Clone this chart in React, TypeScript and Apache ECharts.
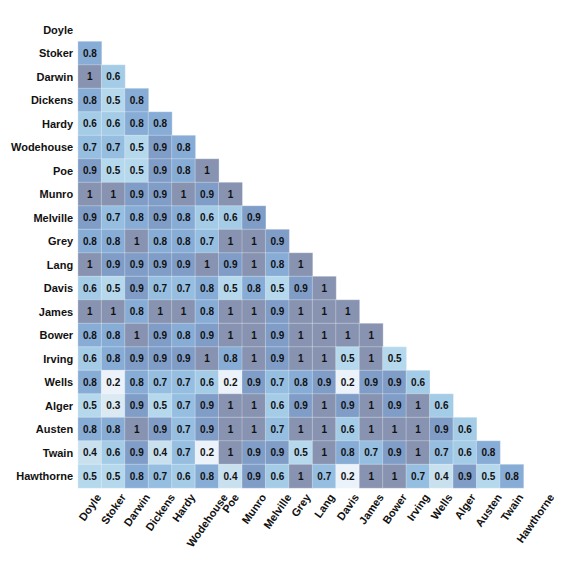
import React, { useEffect, useRef } from "react";
import * as echarts from "echarts";

const authors = [
  "Doyle", "Stoker", "Darwin", "Dickens", "Hardy", "Wodehouse", "Poe", "Munro", "Melville", "Grey",
  "Lang", "Davis", "James", "Bower", "Irving", "Wells", "Alger", "Austen", "Twain", "Hawthorne",
];

// lower-triangle rows: row i holds values for columns 0..i-1
const rowStoker = [0.8];
const rowDarwin = [1, 0.6];
const rowDickens = [0.8, 0.5, 0.8];
const rowHardy = [0.6, 0.6, 0.8, 0.8];
const rowWodehouse = [0.7, 0.7, 0.5, 0.9, 0.8];
const rowPoe = [0.9, 0.5, 0.5, 0.9, 0.8, 1];
const rowMunro = [1, 1, 0.9, 0.9, 1, 0.9, 1];
const rowMelville = [0.9, 0.7, 0.8, 0.9, 0.8, 0.6, 0.6, 0.9];
const rowGrey = [0.8, 0.8, 1, 0.8, 0.8, 0.7, 1, 1, 0.9];
const rowLang = [1, 0.9, 0.9, 0.9, 0.9, 1, 0.9, 1, 0.8, 1];
const rowDavis = [0.6, 0.5, 0.9, 0.7, 0.7, 0.8, 0.5, 0.8, 0.5, 0.9, 1];
const rowJames = [1, 1, 0.8, 1, 1, 0.8, 1, 1, 0.9, 1, 1, 1];
const rowBower = [0.8, 0.8, 1, 0.9, 0.8, 0.9, 1, 1, 0.9, 1, 1, 1, 1];
const rowIrving = [0.6, 0.8, 0.9, 0.9, 0.9, 1, 0.8, 1, 0.9, 1, 1, 0.5, 1, 0.5];
const rowWells = [0.8, 0.2, 0.8, 0.7, 0.7, 0.6, 0.2, 0.9, 0.7, 0.8, 0.9, 0.2, 0.9, 0.9, 0.6];
const rowAlger = [0.5, 0.3, 0.9, 0.5, 0.7, 0.9, 1, 1, 0.6, 0.9, 1, 0.9, 1, 0.9, 1, 0.6];
const rowAusten = [0.8, 0.8, 1, 0.9, 0.7, 0.9, 1, 1, 0.7, 1, 1, 0.6, 1, 1, 1, 0.9, 0.6];
const rowTwain = [0.4, 0.6, 0.9, 0.4, 0.7, 0.2, 1, 0.9, 0.9, 0.5, 1, 0.8, 0.7, 0.9, 1, 0.7, 0.6, 0.8];
const rowHawthorne = [0.5, 0.5, 0.8, 0.7, 0.6, 0.8, 0.4, 0.9, 0.6, 1, 0.7, 0.2, 1, 1, 0.7, 0.4, 0.9, 0.5, 0.8];

const rows: number[][] = [
  [], rowStoker, rowDarwin, rowDickens, rowHardy, rowWodehouse, rowPoe, rowMunro, rowMelville, rowGrey,
  rowLang, rowDavis, rowJames, rowBower, rowIrving, rowWells, rowAlger, rowAusten, rowTwain, rowHawthorne,
];

const colorStops = [
  "#ebf2f9", "#dbe9f3", "#c9e0ee", "#b5d8ec", "#a5cce7", "#95bee0", "#87acd5", "#7f9dc7", "#8793b0",
];

export default function App() {
  const ref = useRef<HTMLDivElement>(null);
  useEffect(() => {
    if (!ref.current) return;
    const chart = echarts.init(ref.current, null, { renderer: "svg" });
    const data: [number, number, number][] = [];
    rows.forEach((r, i) => r.forEach((v, j) => data.push([j, i, v])));
    const font = "Liberation Sans";
    const H = 557;
    const gridLeft = 69, gridRight = 18, gridTop = 10, gridBottom = 77;
    chart.setOption({
      animation: false,
      grid: { left: gridLeft, right: gridRight, top: gridTop, bottom: gridBottom, containLabel: false },
      xAxis: {
        type: "category",
        data: authors,
        axisLine: { show: false },
        axisTick: { show: false },
        splitLine: { show: false },
        axisLabel: { show: false },
      },
      yAxis: {
        type: "category",
        data: authors,
        inverse: true,
        axisLine: { show: false },
        axisTick: { show: false },
        splitLine: { show: false },
        axisLabel: {
          interval: 0,
          margin: 5,
          color: "#111",
          fontWeight: "bold",
          fontSize: 11,
          fontFamily: font,
        },
      },
      visualMap: {
        show: false,
        type: "continuous",
        min: 0.2,
        max: 1,
        dimension: 2,
        inRange: { color: colorStops },
      },
      series: [
        {
          type: "heatmap",
          data,
          itemStyle: { borderColor: "rgba(255,255,255,0.3)", borderWidth: 1 },
          label: {
            show: true,
            color: "#111",
            fontSize: 10,
            fontWeight: "bold",
            fontFamily: font,
            formatter: (p: any) => String(p.value[2]),
          },
          emphasis: { disabled: true },
        },
      ],
    });

    // rotated x labels, each centred under its column
    const angle = (55 * Math.PI) / 180;
    const canvas = document.createElement("canvas");
    const ctx = canvas.getContext("2d")!;
    ctx.font = `bold 11px '${font}'`;
    const h = 10;
    const topY = H - gridBottom + 4;
    const labels = authors.map((name) => {
      const x = chart.convertToPixel({ xAxisIndex: 0 }, name) as unknown as number;
      const L = ctx.measureText(name).width;
      const cy = topY + (L * Math.sin(angle) + h * Math.cos(angle)) / 2;
      return {
        type: "text",
        x,
        y: cy,
        rotation: angle,
        silent: true,
        style: {
          text: name,
          align: "center",
          verticalAlign: "middle",
          fill: "#111",
          font: `bold 11px '${font}'`,
        },
      };
    });
    chart.setOption({ graphic: labels });
    return () => chart.dispose();
  }, []);
  return <div ref={ref} style={{ width: 557, height: 557 }} />;
}
